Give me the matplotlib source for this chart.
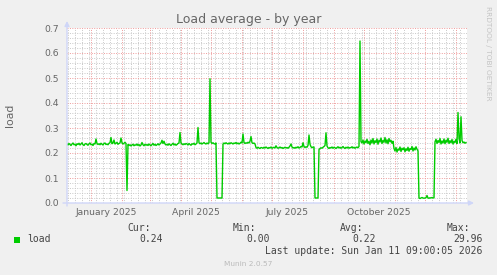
import datetime as dt
import numpy as np
import matplotlib
matplotlib.use("Agg")
import matplotlib.pyplot as plt
import matplotlib.transforms as mtransforms
from matplotlib.patches import Rectangle

# daily load values, first day is 2024-12-08 (munin year graph = 400 days)
start_day = dt.date(2024, 12, 8)
load = [
    0.236, 0.232, 0.238, 0.234, 0.230, 0.236, 0.240, 0.233, 0.235, 0.229, 0.237, 0.234, 0.239, 0.232, 0.236, 0.241, 0.233, 0.230, 0.236, 0.238,
    0.234, 0.231, 0.237, 0.240, 0.233, 0.235, 0.230, 0.238, 0.236, 0.256, 0.238, 0.234, 0.237, 0.233, 0.239, 0.235, 0.232, 0.238, 0.240, 0.234,
    0.236, 0.233, 0.239, 0.241, 0.262, 0.237, 0.240, 0.252, 0.236, 0.239, 0.243, 0.235, 0.238, 0.240, 0.260, 0.241, 0.236, 0.239, 0.243, 0.238,
    0.050, 0.234, 0.230, 0.233, 0.228, 0.232, 0.235, 0.229, 0.233, 0.231, 0.236, 0.230, 0.234, 0.228, 0.232, 0.242, 0.233, 0.229, 0.235, 0.231,
    0.234, 0.230, 0.236, 0.232, 0.229, 0.234, 0.238, 0.231, 0.235, 0.230, 0.233, 0.237, 0.232, 0.236, 0.240, 0.251, 0.238, 0.247, 0.236, 0.232,
    0.235, 0.231, 0.237, 0.233, 0.230, 0.235, 0.239, 0.232, 0.236, 0.231, 0.234, 0.238, 0.240, 0.282, 0.240, 0.236, 0.233, 0.237, 0.234, 0.238,
    0.236, 0.232, 0.238, 0.234, 0.231, 0.237, 0.235, 0.239, 0.233, 0.236, 0.240, 0.302, 0.241, 0.237, 0.240, 0.236, 0.239, 0.242, 0.238, 0.236,
    0.240, 0.237, 0.241, 0.497, 0.243, 0.238, 0.241, 0.237, 0.236, 0.240, 0.020, 0.020, 0.020, 0.020, 0.020, 0.020, 0.236, 0.240, 0.237, 0.241,
    0.238, 0.236, 0.240, 0.237, 0.241, 0.239, 0.236, 0.240, 0.238, 0.242, 0.237, 0.240, 0.236, 0.239, 0.243, 0.240, 0.276, 0.242, 0.238, 0.241,
    0.239, 0.243, 0.240, 0.247, 0.266, 0.241, 0.238, 0.240, 0.236, 0.222, 0.219, 0.223, 0.220, 0.218, 0.222, 0.221, 0.219, 0.223, 0.220, 0.224,
    0.221, 0.218, 0.222, 0.220, 0.224, 0.219, 0.221, 0.223, 0.220, 0.229, 0.222, 0.219, 0.221, 0.224, 0.220, 0.222, 0.218, 0.221, 0.223, 0.220,
    0.222, 0.219, 0.223, 0.228, 0.236, 0.224, 0.220, 0.222, 0.219, 0.223, 0.221, 0.225, 0.220, 0.222, 0.226, 0.224, 0.241, 0.226, 0.222, 0.225,
    0.223, 0.230, 0.272, 0.235, 0.225, 0.221, 0.224, 0.224, 0.020, 0.020, 0.020, 0.020, 0.214, 0.218, 0.221, 0.219, 0.223, 0.226, 0.230, 0.281,
    0.228, 0.221, 0.218, 0.222, 0.220, 0.224, 0.219, 0.223, 0.221, 0.218, 0.222, 0.225, 0.220, 0.223, 0.219, 0.222, 0.226, 0.221, 0.218, 0.223,
    0.220, 0.224, 0.219, 0.222, 0.221, 0.225, 0.220, 0.223, 0.219, 0.222, 0.224, 0.221, 0.226, 0.648, 0.245, 0.240, 0.252, 0.236, 0.248, 0.241,
    0.255, 0.238, 0.247, 0.233, 0.252, 0.240, 0.258, 0.236, 0.249, 0.242, 0.256, 0.235, 0.251, 0.244, 0.260, 0.238, 0.250, 0.243, 0.262, 0.240,
    0.253, 0.237, 0.258, 0.245, 0.251, 0.239, 0.247, 0.218, 0.208, 0.222, 0.204, 0.216, 0.211, 0.224, 0.206, 0.219, 0.213, 0.221, 0.205, 0.217,
    0.210, 0.223, 0.207, 0.218, 0.214, 0.226, 0.208, 0.220, 0.212, 0.225, 0.215, 0.209, 0.020, 0.018, 0.020, 0.022, 0.020, 0.019, 0.020, 0.021,
    0.030, 0.020, 0.019, 0.021, 0.020, 0.022, 0.020, 0.021, 0.245, 0.255, 0.238, 0.250, 0.242, 0.258, 0.236, 0.248, 0.240, 0.256, 0.237, 0.251,
    0.243, 0.259, 0.238, 0.249, 0.241, 0.254, 0.236, 0.247, 0.242, 0.255, 0.238, 0.362, 0.258, 0.240, 0.345, 0.250, 0.241, 0.244, 0.239, 0.242,
]

y_ticks = [0.0, 0.1, 0.2, 0.3, 0.4, 0.5, 0.6, 0.7]
y_tick_labels = ["0.0", "0.1", "0.2", "0.3", "0.4", "0.5", "0.6", "0.7"]
x_label_dates = [dt.date(2025, 1, 16), dt.date(2025, 4, 16), dt.date(2025, 7, 16), dt.date(2025, 10, 16)]
x_labels = ["January 2025", "April 2025", "July 2025", "October 2025"]

series_name = "load"
stat_names = ["Cur:", "Min:", "Avg:", "Max:"]
stat_values = ["0.24", "0.00", "0.22", "29.96"]
last_update = "Last update: Sun Jan 11 09:00:05 2026"

W, H = 497, 275
GREY_TXT = "#666666"
AXIS_COL = "#CFD6F8"


def fx(px):
    return px / W


def fy(py):
    return 1 - py / H


fig = plt.figure(figsize=(W / 100, H / 100), dpi=100, facecolor="#F0F0F0")
ax = fig.add_axes([fx(67), fy(203), 400 / W, 175 / H])
ax.set_facecolor("white")

span = 400
ax.set_xlim(0, span)
ax.set_ylim(0, 0.7)

# grid: red at months / 0.1, grey at weeks / 0.02
month_starts = []
d = dt.date(2025, 1, 1)
while (d - start_day).days < span:
    month_starts.append((d - start_day).days)
    d = dt.date(d.year + (d.month == 12), d.month % 12 + 1, 1)
mondays = [k for k in range(span) if (start_day + dt.timedelta(days=k)).weekday() == 0]
mondays = [k for k in mondays if k not in month_starts]
y_minor = [v for v in np.round(np.arange(0, 0.701, 0.02), 2) if round(v * 10, 6) % 1 != 0]

for k in mondays:
    ax.axvline(k, color="#C8C8C8", lw=0.7, ls=(0, (1, 1.5)), zorder=1)
for v in y_minor:
    ax.axhline(v, color="#C8C8C8", lw=0.7, ls=(0, (1, 1.5)), zorder=1)
for k in month_starts:
    ax.axvline(k, color="#EE9A9A", lw=0.7, ls=(0, (1, 1.5)), zorder=2)
for v in y_ticks[1:]:
    ax.axhline(v, color="#EE9A9A", lw=0.7, ls=(0, (1, 1.5)), zorder=2)

days = np.arange(len(load))
ax.plot(days, load, color="#00CC00", lw=1.0, zorder=3)

for s in ax.spines.values():
    s.set_visible(False)
ax.set_xticks([])
ax.set_yticks(y_ticks)
ax.set_yticklabels(y_tick_labels)
ax.tick_params(axis="y", length=0, pad=5.5, labelsize=6.7, labelcolor=GREY_TXT)

trans = mtransforms.blended_transform_factory(ax.transData, fig.transFigure)
for lab_date, lab in zip(x_label_dates, x_labels):
    ax.text((lab_date - start_day).days, fy(212.5), lab, transform=trans, ha="center", va="center",
            fontsize=6.7, color=GREY_TXT)

# axes with arrows
ax.annotate("", xy=(474, H - 203), xytext=(63, H - 203), xycoords="figure pixels",
            arrowprops=dict(arrowstyle="-|>", color=AXIS_COL, lw=1, mutation_scale=7, shrinkA=0, shrinkB=0))
ax.annotate("", xy=(67, H - 21), xytext=(67, H - 206), xycoords="figure pixels",
            arrowprops=dict(arrowstyle="-|>", color=AXIS_COL, lw=1, mutation_scale=7, shrinkA=0, shrinkB=0))

fig.text(fx(248.5), fy(20), "Load average - by year", ha="center", va="center", fontsize=9, color=GREY_TXT)
fig.text(fx(10), fy(115), "load", rotation=90, ha="center", va="center", fontsize=7.8, color=GREY_TXT)
fig.text(fx(488), fy(53), "RRDTOOL / TOBI OETIKER", rotation=270, ha="center", va="center",
         fontsize=5.3, color="#C4C4C4")

# legend
mono = "DejaVu Sans Mono"
fig.patches.append(Rectangle((fx(14), fy(243)), 6 / W, 6 / H, transform=fig.transFigure,
                             facecolor="#00CC00", edgecolor="none"))
fig.text(fx(27), fy(239.5), series_name, ha="left", va="center", fontsize=7, family=mono, color="#444444")
name_left = [127, 233, 340, 447]
value_right = [163, 270, 376, 482.5]
for nm, val, xl, xr in zip(stat_names, stat_values, name_left, value_right):
    fig.text(fx(xl), fy(228), nm, ha="left", va="center", fontsize=7, family=mono, color="#444444")
    fig.text(fx(xr), fy(239.5), val, ha="right", va="center", fontsize=7, family=mono, color="#444444")
fig.text(fx(482.5), fy(251), last_update, ha="right", va="center", fontsize=7, family=mono, color="#444444")
fig.text(fx(248), fy(264), "Munin 2.0.57", ha="center", va="center", fontsize=5.3, color="#BBBBBB")

fig.savefig("out.png", dpi=100, facecolor=fig.get_facecolor())
